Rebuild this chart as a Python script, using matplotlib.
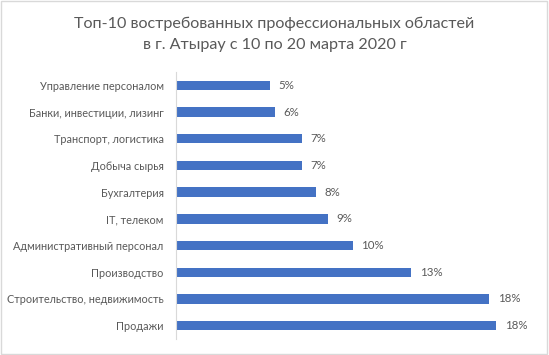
import matplotlib.pyplot as plt
from matplotlib.patches import Rectangle

plt.rcParams['font.family'] = ['Lato', 'DejaVu Sans']

# данные (сверху вниз, как на картинке)
categories = [
    "Управление персоналом",
    "Банки, инвестиции, лизинг",
    "Транспорт, логистика",
    "Добыча сырья",
    "Бухгалтерия",
    "IT, телеком",
    "Административный персонал",
    "Производство",
    "Строительство, недвижимость",
    "Продажи",
]
shares = [5.3, 5.6, 7.1, 7.1, 7.9, 8.6, 10.0, 13.3, 17.7, 18.1]

title = "Топ-10 востребованных профессиональных областей\nв г. Атырау с 10 по 20 марта 2020 г"

bar_color = "#4472C4"
text_color = "#595959"

fig = plt.figure(figsize=(5.49, 3.55), dpi=100)
ax = fig.add_axes([0.3206, 0.0451, 0.6448, 0.752])

y = range(len(categories))
ax.barh(y, shares, height=0.35, color=bar_color)
ax.set_ylim(len(categories) - 0.5, -0.5)
ax.set_xlim(0, 20)

ax.set_yticks(list(y))
ax.set_yticklabels(categories, fontsize=7.8, color=text_color)
ax.tick_params(axis="y", length=0, pad=9)
ax.set_xticks([])

for i, v in enumerate(shares):
    ax.annotate(f"{v:.0f}%", (v, i), xytext=(6, 0), textcoords="offset points",
                va="center", ha="left", fontsize=8.3, color=text_color)

for s in ["top", "right", "bottom"]:
    ax.spines[s].set_visible(False)
ax.spines["left"].set_color("#D9D9D9")

fig.text(0.5, 0.903, title, ha="center", va="center", fontsize=11.6,
         color=text_color, linespacing=1.6)

# рамка вокруг всей диаграммы
fig.patches.append(Rectangle((0.002, 0.003), 0.995, 0.993, transform=fig.transFigure,
                             fill=False, edgecolor="#D9D9D9", linewidth=1))

fig.savefig("out.png", dpi=100)
